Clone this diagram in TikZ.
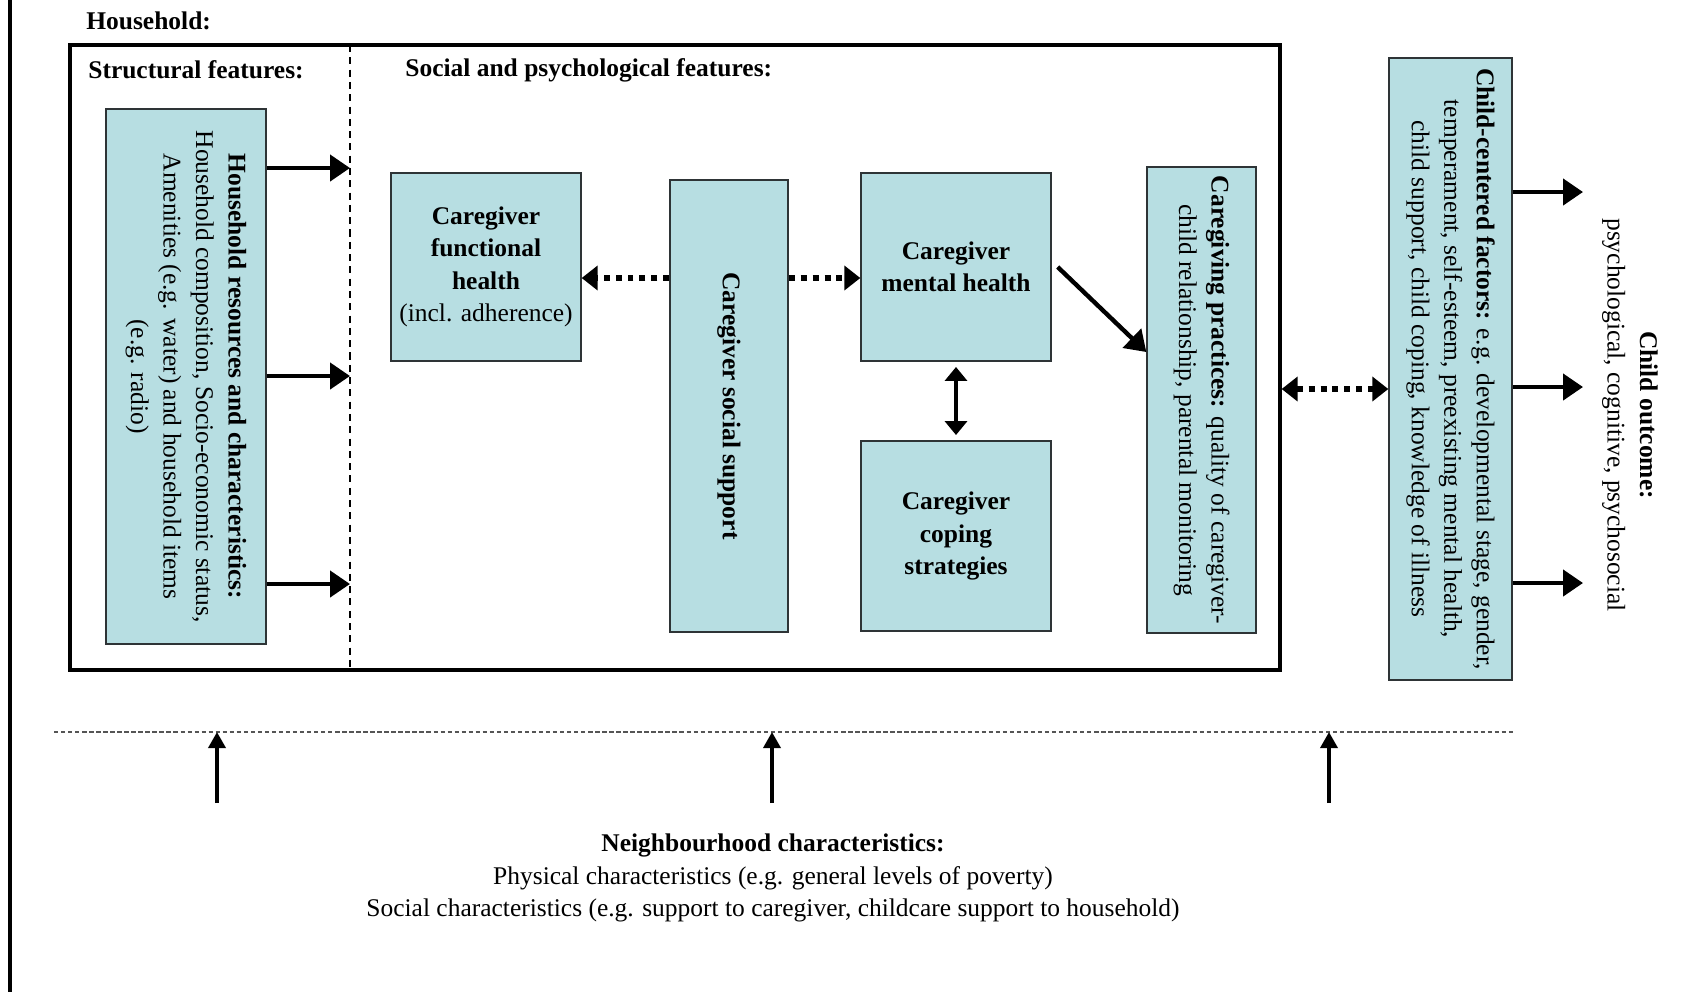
\documentclass[tikz,border=0pt]{standalone}
\usepackage{fontspec}
\setmainfont{Liberation Serif}
\usepackage{xcolor}
\usetikzlibrary{arrows.meta}
\definecolor{boxfill}{HTML}{B7DEE2}
\definecolor{boxline}{HTML}{2E3436}
\definecolor{dashline}{HTML}{555555}
\tikzset{
  txt/.style={font=\fontsize{14.5}{18.5}\selectfont},
  frame/.style={draw=black, line width=2pt},
  fbox/.style={txt, draw=boxline, fill=boxfill, line width=0.8pt, align=center, inner sep=2pt},
  vbox/.style={fbox, rotate=-90},
  lab/.style={txt, anchor=west, inner sep=0pt},
  arr/.style={-{Triangle[length=0.4cm,width=0.52cm]}, line width=2.5pt},
  dbl/.style={{Triangle[length=0.28cm,width=0.44cm]}-{Triangle[length=0.28cm,width=0.44cm]}, line width=2.2pt},
  dotarr/.style={-{Triangle[length=0.32cm,width=0.48cm]}, line width=3pt, dash pattern=on 3.4pt off 3.4pt},
  dotdbl/.style={dotarr, {Triangle[length=0.32cm,width=0.48cm]}-{Triangle[length=0.32cm,width=0.48cm]}},
  uparr/.style={-{Triangle[length=0.32cm,width=0.34cm]}, line width=2pt},
  divline/.style={draw=black, line width=0.6pt, dash pattern=on 4pt off 3pt},
  nbline/.style={draw=dashline, line width=1pt, dash pattern=on 2.5pt off 1.5pt}
}

\begin{document}
\begin{tikzpicture}[x=0.02cm, y=-0.02cm]
  \useasboundingbox (0,0) rectangle (1683,992);
  \draw[line width=1.8pt] (10,0) -- (10,992);

  % household frame
  \node[frame, minimum width=24.2cm, minimum height=12.5cm] (house) at (675,357.5) {};
  \draw[divline] (350,45) -- (350,670);
  \node[lab] (hhlab) at (86,21) {\textbf{Household:}};
  \node[lab] (sflab) at (88,70) {\textbf{Structural features:}};
  \node[lab] (splab) at (405,70) {\textbf{Social and psychological features:}};

  \node[vbox, minimum width=10.7cm, minimum height=3.2cm] (hh) at (186,376.5)
    {\textbf{Household resources and characteristics:}\\
     Household composition, Socio-economic status,\\
     Amenities (e.g. water) and household items\\
     (e.g. radio)};
  \node[fbox, minimum width=3.8cm, minimum height=3.76cm] (fh) at (486,267)
    {\textbf{Caregiver}\\\textbf{functional}\\\textbf{health}\\(incl. adherence)};
  \node[vbox, minimum width=9.04cm, minimum height=2.36cm] (ss) at (729,406)
    {\textbf{Caregiver social support}};
  \node[fbox, minimum width=3.8cm, minimum height=3.76cm] (mh) at (956,267)
    {\textbf{Caregiver}\\\textbf{mental health}};
  \node[fbox, minimum width=3.8cm, minimum height=3.8cm] (cs) at (956,536)
    {\textbf{Caregiver}\\\textbf{coping}\\\textbf{strategies}};
  \node[vbox, minimum width=9.32cm, minimum height=2.18cm] (cp) at (1201.5,400)
    {\textbf{Caregiving practices:} quality of caregiver-\\
     child relationship, parental monitoring};
  \node[vbox, minimum width=12.44cm, minimum height=2.46cm] (cf) at (1450.5,369)
    {\textbf{Child-centered factors:} e.g. developmental stage, gender,\\
     temperament, self-esteem, preexisting mental health,\\
     child support, child coping, knowledge of illness};
  \node[txt, rotate=-90, align=center] (out) at (1630,415)
    {\textbf{Child outcome:}\\psychological, cognitive, psychosocial};

  % connectors
  \coordinate (d1) at (350,168);
  \coordinate (d2) at (350,376);
  \coordinate (d3) at (350,584);
  \foreach \i in {1,2,3}
    \draw[arr] (d\i -| hh.north) -- (d\i);

  \coordinate (lv) at (0,278);
  \draw[dotarr] (ss.south |- lv) -- (fh.east |- lv);
  \draw[dotarr] (ss.north |- lv) -- (mh.west |- lv);
  \coordinate (tp) at (0,352);
  \draw[arr] ([xshift=0.12cm]mh.east) -- (cp.south |- tp);
  \draw[dbl, shorten <=3pt, shorten >=3pt] (mh.south) -- (cs.north);

  \coordinate (cl) at (0,389);
  \draw[dotdbl] (house.east |- cl) -- (cf.south |- cl);

  \coordinate (o1) at (1583,192);
  \coordinate (o2) at (1583,387);
  \coordinate (o3) at (1583,583);
  \foreach \i in {1,2,3}
    \draw[arr] (o\i -| cf.north) -- (o\i);

  % neighbourhood
  \coordinate (nl) at (54,732);
  \coordinate (nr) at (1515,732);
  \draw[nbline] (nl) -- (nr);
  \foreach \x [count=\i] in {217,772,1329} {
    \coordinate (n\i) at (\x,803);
    \draw[uparr] (n\i) -- (n\i |- nl);
  }
  \node[txt, align=center] (nb) at (773,878)
    {\textbf{Neighbourhood characteristics:}\\
     Physical characteristics (e.g. general levels of poverty)\\
     Social characteristics (e.g. support to caregiver, childcare support to household)};
\end{tikzpicture}
\end{document}
